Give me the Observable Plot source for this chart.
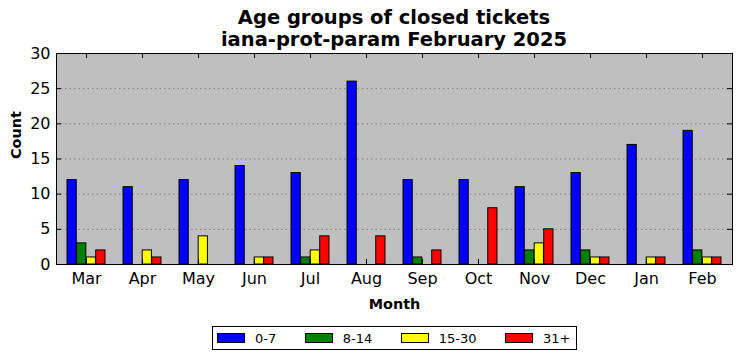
<!DOCTYPE html>
<html>
<head>
<meta charset="utf-8">
<script src="https://cdn.jsdelivr.net/npm/d3@7"></script>
<script src="https://cdn.jsdelivr.net/npm/@observablehq/plot@0.6"></script>
<style>
  html, body { margin: 0; padding: 0; background: white; }
  body { width: 742px; height: 361px; font-family: "DejaVu Sans", sans-serif; overflow: hidden; }
  #title { height: 46px; box-sizing: border-box; padding-top: 7px; padding-left: 56px; width: 732px;
           text-align: center; font-weight: bold; font-size: 19.5px; line-height: 22px; }
  #title div { white-space: nowrap; }
  #legend { margin-top: 10px; margin-left: 212px; width: 365px; height: 24px; box-sizing: border-box;
            border: 1px solid black; display: flex; align-items: center; padding-left: 4px; font-size: 13px; }
  .item { display: flex; align-items: center; margin-right: 28.5px; }
  .item:last-child { margin-right: 0; }
  .sw { width: 28px; height: 10px; box-sizing: border-box; border: 1px solid black; margin-right: 10px; }
</style>
</head>
<body>
<div id="title"><div>Age groups of closed tickets</div><div>iana-prot-param February 2025</div></div>
<div id="chart"></div>
<div id="legend"></div>
<script>
const months = ["Mar", "Apr", "May", "Jun", "Jul", "Aug", "Sep", "Oct", "Nov", "Dec", "Jan", "Feb"];
const seriesNames = ["0-7", "8-14", "15-30", "31+"];
const seriesColors = ["#0000ff", "#008000", "#ffff00", "#ff0000"];
const age0to7 = [12, 11, 12, 14, 13, 26, 12, 12, 11, 13, 17, 19];
const age8to14 = [3, 0, 0, 0, 1, 0, 1, 0, 2, 2, 0, 2];
const age15to30 = [1, 2, 4, 1, 2, 0, 0, 0, 3, 1, 1, 1];
const age31plus = [2, 1, 0, 1, 4, 4, 2, 8, 5, 1, 1, 1];
const yTicks = [0, 5, 10, 15, 20, 25, 30];
const gridValues = [5, 10, 15, 20, 25];

const seriesValues = [age0to7, age8to14, age15to30, age31plus];

const W = 742, H = 270, mL = 56, mR = 10, mT = 7, mB = 52;
const plotW = W - mL - mR, plotH = H - mT - mB;
const band = plotW / months.length;
const barW = band * 0.17;
const off = (band - 4 * barW) / 2;
const tickLen = 5;

const barMarks = seriesValues.map((vals, i) => {
  const rows = months.map((m, j) => ({month: m, value: vals[j]})).filter(d => d.value > 0);
  return Plot.barY(rows, {
    x: "month", y: "value", fill: seriesColors[i], stroke: "black", strokeWidth: 1,
    insetLeft: off + i * barW, insetRight: band - off - (i + 1) * barW
  });
});

const chart = Plot.plot({
  width: W, height: H,
  marginLeft: mL, marginRight: mR, marginTop: mT, marginBottom: mB,
  style: {fontFamily: "DejaVu Sans", fontSize: "16px", color: "black", background: "transparent", overflow: "visible"},
  x: {type: "band", domain: months, padding: 0, axis: null},
  y: {domain: [0, 30], axis: null},
  marks: [
    Plot.frame({fill: "#bfbfbf", stroke: null}),
    Plot.ruleY(gridValues, {y: d => d, stroke: "#808080", strokeWidth: 1, strokeDasharray: "1.5,3"}),
    ...barMarks,
    Plot.ruleY(yTicks, {y: d => d, stroke: "black", insetRight: plotW - tickLen}),
    Plot.ruleY(yTicks, {y: d => d, stroke: "black", insetLeft: plotW - tickLen}),
    Plot.ruleX(months, {x: d => d, stroke: "black", insetTop: plotH - tickLen}),
    Plot.ruleX(months, {x: d => d, stroke: "black", insetBottom: plotH - tickLen}),
    Plot.axisY(yTicks, {anchor: "left", tickSize: 0, tickPadding: 6, fontSize: 16, label: null}),
    Plot.axisX(months, {anchor: "bottom", tickSize: 0, tickPadding: 8.5, fontSize: 16, label: null}),
    Plot.text(["Count"], {frameAnchor: "left", dx: -40, rotate: -90, fontWeight: "bold", fontSize: 14.4, text: d => d}),
    Plot.text(["Month"], {frameAnchor: "bottom", dy: 44, lineAnchor: "bottom", fontWeight: "bold", fontSize: 14.4, text: d => d}),
    Plot.frame({stroke: "black", strokeWidth: 1})
  ]
});
document.getElementById("chart").appendChild(chart);

const legend = document.getElementById("legend");
seriesNames.forEach((name, i) => {
  const item = document.createElement("div");
  item.className = "item";
  const sw = document.createElement("div");
  sw.className = "sw";
  sw.style.background = seriesColors[i];
  const t = document.createElement("span");
  t.textContent = name;
  item.appendChild(sw);
  item.appendChild(t);
  legend.appendChild(item);
});
</script>
</body>
</html>
